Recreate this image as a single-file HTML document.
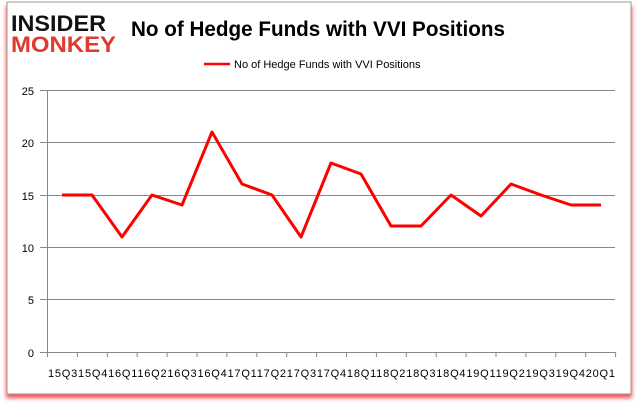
<!DOCTYPE html>
<html><head><style>
body{margin:0;background:#fff;}
</style></head><body>
<svg width="637" height="408" xmlns="http://www.w3.org/2000/svg" style="display:block">
<defs><filter id="s" x="-5%" y="-5%" width="110%" height="110%"><feGaussianBlur stdDeviation="2"/></filter></defs>
<rect x="6" y="6" width="626" height="392" fill="#f00" opacity="0.7" filter="url(#s)"/>
<rect x="7" y="2" width="624" height="392" fill="#fff" stroke="#999" stroke-width="1"/>
<text x="11" y="31" font-family="Liberation Sans, sans-serif" font-weight="900" font-size="22" fill="#111" textLength="95" lengthAdjust="spacingAndGlyphs">INSIDER</text>
<text x="11" y="52" font-family="Liberation Sans, sans-serif" font-weight="900" font-size="22" fill="#e03a2e" textLength="105" lengthAdjust="spacingAndGlyphs">MONKEY</text>
<text x="131" y="36" font-family="Liberation Sans, sans-serif" font-weight="bold" font-size="21" fill="#000" textLength="374" lengthAdjust="spacingAndGlyphs">No of Hedge Funds with VVI Positions</text>
<line x1="204" y1="64" x2="230" y2="64" stroke="#f00" stroke-width="2.5"/>
<text x="234" y="68" font-family="Liberation Sans, sans-serif" font-size="11" fill="#000">No of Hedge Funds with VVI Positions</text>
<g stroke="#888" stroke-width="1">
<line x1="47" y1="90.5" x2="615" y2="90.5"/>
<line x1="47" y1="142.5" x2="615" y2="142.5"/>
<line x1="47" y1="195.5" x2="615" y2="195.5"/>
<line x1="47" y1="247.5" x2="615" y2="247.5"/>
<line x1="47" y1="299.5" x2="615" y2="299.5"/>
<line x1="40" y1="352.5" x2="615" y2="352.5"/>
<line x1="47.5" y1="90" x2="47.5" y2="352"/>
<line x1="40" y1="90.5" x2="47" y2="90.5"/><line x1="40" y1="142.5" x2="47" y2="142.5"/><line x1="40" y1="195.5" x2="47" y2="195.5"/><line x1="40" y1="247.5" x2="47" y2="247.5"/><line x1="40" y1="299.5" x2="47" y2="299.5"/>
</g>
<g stroke="#888" id="t"></g>
<g font-family="Liberation Sans, sans-serif" font-size="11" fill="#000" text-anchor="end">
<text x="34" y="95">25</text><text x="34" y="147">20</text><text x="34" y="200">15</text><text x="34" y="252">10</text><text x="34" y="304">5</text><text x="34" y="357">0</text>
</g>
<text x="48" y="377" font-family="Liberation Sans, sans-serif" font-size="11" fill="#000" textLength="567">15Q315Q416Q116Q216Q316Q417Q117Q217Q317Q418Q118Q218Q318Q419Q119Q219Q319Q420Q1</text>
<polyline fill="none" stroke="#f00" stroke-width="3" stroke-linejoin="round" points="62,195 92,195 122,237 152,195 182,205 212,132 242,184 272,195 301,237 331,163 361,174 391,226 421,226 451,195 481,216 511,184 541,195 571,205 601,205"/>
<script>
var g=document.getElementById('t');for(var k=0;k<=19;k++){var x=47.5+k*29.9;var l=document.createElementNS('http://www.w3.org/2000/svg','line');l.setAttribute('x1',x);l.setAttribute('x2',x);l.setAttribute('y1',352);l.setAttribute('y2',357);g.appendChild(l);}
</script>
</svg>
</body></html>
